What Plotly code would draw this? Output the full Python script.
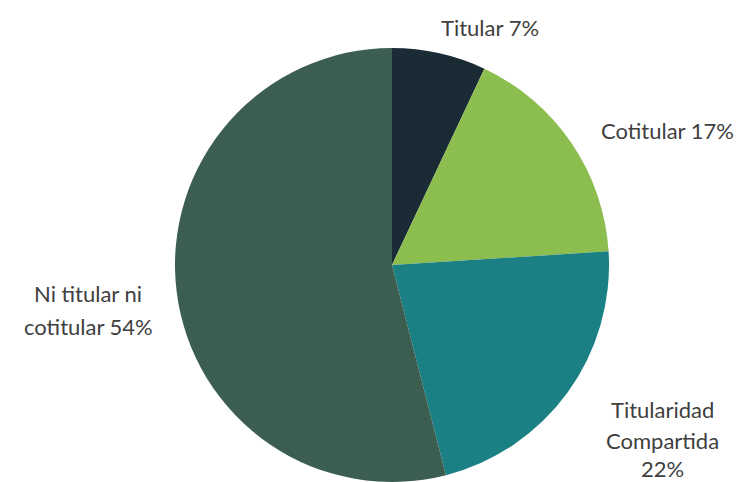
import plotly.graph_objects as go

# Distribution of ownership status
categories = ["Titular", "Cotitular", "Titularidad Compartida", "Ni titular ni cotitular"]
shares = [7, 17, 22, 54]
colors = ["#1b2b35", "#8cbd4f", "#1b8083", "#3b5e50"]

# Label lines per slice, drawn outside the pie
label_lines = [
    ["Titular 7%"],
    ["Cotitular 17%"],
    ["Titularidad", "Compartida", "22%"],
    ["Ni titular ni", "cotitular 54%"],
]
# Label anchor (pixel x of centre, pixel y of each line)
label_pos = [
    (490, [27]),
    (667, [131]),
    (662, [409, 440, 468]),
    (88, [293, 326]),
]

W, H = 743, 482
cx, cy, r = 392, 265, 217

fig = go.Figure(
    go.Pie(
        labels=categories,
        values=shares,
        marker=dict(colors=colors, line=dict(width=0)),
        sort=False,
        direction="clockwise",
        rotation=0,
        textinfo="none",
        hoverinfo="label+percent",
        domain=dict(
            x=[(cx - r) / W, (cx + r) / W],
            y=[(H - cy - r) / H, (H - cy + r) / H],
        ),
    )
)

for lines, (x, ys) in zip(label_lines, label_pos):
    for text, y in zip(lines, ys):
        fig.add_annotation(
            text=text,
            x=x / W,
            y=1 - y / H,
            xref="paper",
            yref="paper",
            xanchor="center",
            yanchor="middle",
            showarrow=False,
            font=dict(family="Lato", size=22, color="#404040"),
        )

fig.update_layout(
    width=W,
    height=H,
    margin=dict(l=0, r=0, t=0, b=0),
    paper_bgcolor="white",
    plot_bgcolor="white",
    showlegend=False,
)

fig.write_html("out.html")
